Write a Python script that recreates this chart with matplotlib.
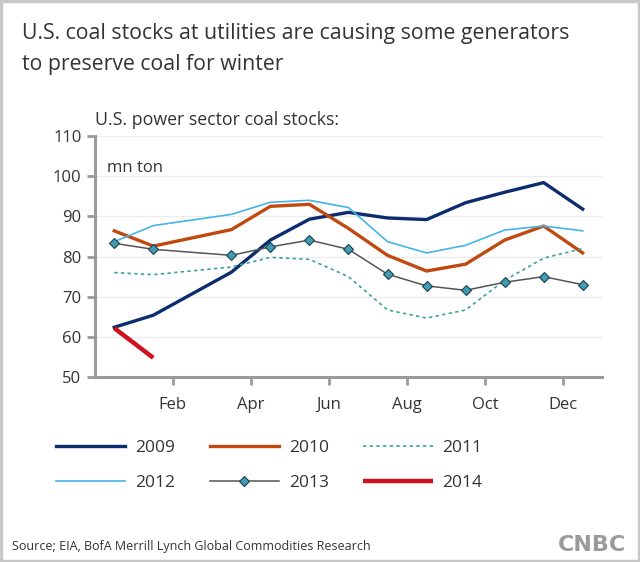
import matplotlib
matplotlib.use("Agg")
import matplotlib.pyplot as plt
from matplotlib.patches import Rectangle

plt.rcParams["font.family"] = ["Open Sans", "DejaVu Sans"]

# month slots: 0 = first point, 12 = last point (slot 2 has no data)
months = [0, 1, 3, 4, 5, 6, 7, 8, 9, 10, 11, 12]
tick_pos = [1.5, 3.5, 5.5, 7.5, 9.5, 11.5]
tick_labels = ["Feb", "Apr", "Jun", "Aug", "Oct", "Dec"]

s2009 = [62.4, 65.4, 76.1, 84.1, 89.3, 91.0, 89.6, 89.2, 93.4, 96.0, 98.4, 91.8]
s2010 = [86.4, 82.6, 86.7, 92.5, 93.0, 87.0, 80.3, 76.4, 78.1, 84.1, 87.6, 80.9]
s2011 = [76.0, 75.5, 77.4, 79.8, 79.3, 75.0, 66.7, 64.7, 66.7, 74.1, 79.6, 82.0]
s2012 = [83.7, 87.7, 90.5, 93.5, 94.0, 92.2, 83.7, 80.9, 82.8, 86.6, 87.6, 86.4]
s2013 = [83.3, 81.8, 80.3, 82.4, 84.1, 81.8, 75.6, 72.7, 71.6, 73.6, 75.0, 73.0]
s2014 = [62.2, 54.8]

fig = plt.figure(figsize=(6.4, 5.62), dpi=100)
ax = fig.add_axes([0.148, 0.329, 0.793, 0.429])

l09, = ax.plot(months, s2009, color="#0b2d6f", lw=2.4, label="2009")
l10, = ax.plot(months, s2010, color="#c0490f", lw=2.4, label="2010")
l11, = ax.plot(months, s2011, color="#3aa39c", lw=1.2, ls=(0, (2, 2)), label="2011")
l12, = ax.plot(months, s2012, color="#45b4e6", lw=1.2, label="2012")
l13, = ax.plot(months, s2013, color="#555555", lw=1.1, marker="D", ms=5,
               mfc="#3e9db0", mec="#1f3f4f", mew=0.8, label="2013")
l14, = ax.plot(months[:2], s2014, color="#d0101f", lw=3.2, label="2014",
               solid_capstyle="butt")

ax.set_xlim(-0.5, 12.5)
ax.set_ylim(50, 110)
ax.set_yticks(range(50, 111, 10))
ax.set_xticks(tick_pos)
ax.set_xticklabels(tick_labels)
ax.grid(axis="y", color="#ececec", lw=1)
ax.set_axisbelow(True)
for s in ["top", "right"]:
    ax.spines[s].set_visible(False)
for s in ["left", "bottom"]:
    ax.spines[s].set_color("#9a9a9a")
    ax.spines[s].set_linewidth(2.2)
ax.tick_params(colors="#9a9a9a", width=2, length=6, labelsize=12,
               labelcolor="#333333")
ax.tick_params(axis="x", pad=8)
ax.text(0.025, 0.85, "mn ton", transform=ax.transAxes, fontsize=12, color="#333333")

fig.text(0.034, 0.94, "U.S. coal stocks at utilities are causing some generators",
         fontsize=15.3, color="#333333", va="center")
fig.text(0.034, 0.885, "to preserve coal for winter",
         fontsize=15.3, color="#333333", va="center")
fig.text(0.148, 0.787, "U.S. power sector coal stocks:", fontsize=12.8,
         color="#333333", va="center")

handles = [l09, l12, l10, l13, l11, l14]
fig.legend(handles=handles, labels=[h.get_label() for h in handles], ncol=3,
           loc="center left", bbox_to_anchor=(0.074, 0.172), frameon=False,
           fontsize=12.5, handlelength=4.0, columnspacing=2.0, borderpad=0,
           handletextpad=0.55, labelspacing=1.1, labelcolor="#333333")

fig.text(0.019, 0.028, "Source; EIA, BofA Merrill Lynch Global Commodities Research",
         fontsize=9, color="#333333", va="center")
fig.text(0.978, 0.03, "CNBC", fontsize=16, fontweight="bold", color="#9a9a9a",
         ha="right", va="center", family="DejaVu Sans")

fig.patches.append(Rectangle((0.002, 0.002), 0.996, 0.996, transform=fig.transFigure,
                             fill=False, edgecolor="#c8c8c8", lw=2.5))

fig.savefig("out.png", dpi=100)
